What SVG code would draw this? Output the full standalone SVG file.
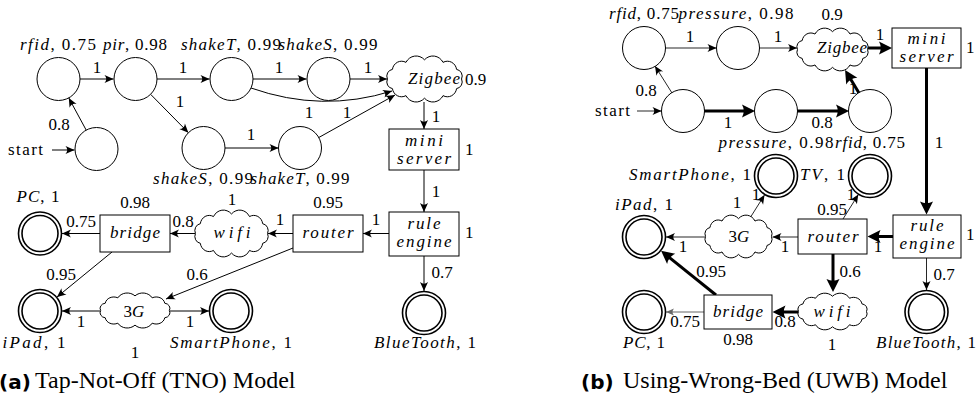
<svg xmlns="http://www.w3.org/2000/svg" width="977" height="397" viewBox="0 0 977 397">
<defs>
<marker id="ah" markerUnits="userSpaceOnUse" viewBox="-10 -5 11 10" refX="0" refY="0" markerWidth="11" markerHeight="10" orient="auto" overflow="visible"><path d="M0,0 L-9,-4 Q-5.5,0 -9,4 Z" fill="#000"/></marker>
<marker id="ahg" markerUnits="userSpaceOnUse" viewBox="-10 -5 11 10" refX="0" refY="0" markerWidth="11" markerHeight="10" orient="auto" overflow="visible"><path d="M0,0 L-8,-3.5 Q-5,0 -8,3.5 Z" fill="#666"/></marker>
<marker id="ahb" markerUnits="userSpaceOnUse" viewBox="-7 -8 17 16" refX="0" refY="0" markerWidth="17" markerHeight="16" orient="auto" overflow="visible"><path d="M8,0 L-5,-6.5 Q-1.5,0 -5,6.5 Z" fill="#000"/></marker>
<path id="cloud" fill="#fff" stroke="#000" stroke-width="1" vector-effect="non-scaling-stroke" d="M34,0 A6,6 0 0 1 29.44,8.5 A8.5,8.5 0 0 1 17,14.72 A10.5,10.5 0 0 1 0,17 A10.5,10.5 0 0 1 -17,14.72 A8.5,8.5 0 0 1 -29.44,8.5 A6,6 0 0 1 -34,0 A6,6 0 0 1 -29.44,-8.5 A8.5,8.5 0 0 1 -17,-14.72 A10.5,10.5 0 0 1 0,-17 A10.5,10.5 0 0 1 17,-14.72 A8.5,8.5 0 0 1 29.44,-8.5 A6,6 0 0 1 34,0 Z"/>
<circle id="st" r="21.5" fill="#fff" stroke="#000" stroke-width="1"/>
<g id="acc"><circle r="21.5" fill="#fff" stroke="#000" stroke-width="1.6"/><circle r="18" fill="none" stroke="#000" stroke-width="1.6"/></g>
</defs>
<rect width="977" height="397" fill="#fff"/>
<text x="-1" y="389" font-family="DejaVu Sans" font-weight="bold" font-size="20">(a)</text>
<text x="35" y="388" font-family="Liberation Serif" font-size="24">Tap-Not-Off (TNO) Model</text>
<text x="581" y="389" font-family="DejaVu Sans" font-weight="bold" font-size="20">(b)</text>
<text x="623" y="388" font-family="Liberation Serif" font-size="24">Using-Wrong-Bed (UWB) Model</text>
<g id="edges-a" fill="none" stroke="#000" stroke-width="1">
<line x1="52" y1="150" x2="74.5" y2="150" marker-end="url(#ah)"/>
<line x1="86.2" y1="130.1" x2="68.8" y2="98" marker-end="url(#ah)"/>
<line x1="80" y1="79" x2="113.5" y2="79" marker-end="url(#ah)"/>
<line x1="157" y1="79" x2="209.5" y2="79" marker-end="url(#ah)"/>
<line x1="253" y1="79" x2="306.5" y2="79" marker-end="url(#ah)"/>
<line x1="350" y1="79" x2="387" y2="79" marker-end="url(#ah)"/>
<line x1="150.6" y1="94.3" x2="188.4" y2="132.7" marker-end="url(#ah)"/>
<line x1="225" y1="148" x2="278.5" y2="148" marker-end="url(#ah)"/>
<line x1="318.8" y1="137.5" x2="395" y2="95" marker-end="url(#ah)"/>
<path d="M251,88 Q322,113 392,91" marker-end="url(#ah)"/>
<line x1="424" y1="102" x2="424" y2="129" marker-end="url(#ah)"/>
<line x1="424" y1="170" x2="424" y2="212" marker-end="url(#ah)"/>
<line x1="389" y1="233.5" x2="363" y2="233.5" marker-end="url(#ah)"/>
<line x1="293" y1="233.5" x2="268" y2="233.5" marker-end="url(#ah)"/>
<line x1="195" y1="233.5" x2="170" y2="233.5" marker-end="url(#ah)"/>
<line x1="100" y1="233.5" x2="62" y2="233.5" marker-end="url(#ah)"/>
<line x1="112" y1="252" x2="57" y2="297" marker-end="url(#ah)"/>
<line x1="293" y1="248" x2="166" y2="299" marker-end="url(#ah)"/>
<line x1="100" y1="311" x2="62" y2="311" marker-end="url(#ah)"/>
<line x1="170" y1="311" x2="209" y2="311" marker-end="url(#ah)"/>
<line x1="424" y1="256" x2="424" y2="291" marker-end="url(#ah)"/>
</g>
<g id="a-rfid"><use href="#st" x="58.5" y="79"/><text font-family="Liberation Serif" font-size="17" text-anchor="middle" x="58" y="50" textLength="76" lengthAdjust="spacing"><tspan font-style="italic">rfid</tspan>, 0.75</text></g>
<g id="a-pir"><use href="#st" x="135.5" y="79"/><text font-family="Liberation Serif" font-size="17" text-anchor="middle" x="135" y="50" textLength="64" lengthAdjust="spacing"><tspan font-style="italic">pir</tspan>, 0.98</text></g>
<g id="a-shakeT1"><use href="#st" x="231.5" y="79"/><text font-family="Liberation Serif" font-size="17" text-anchor="middle" x="231" y="50" textLength="100" lengthAdjust="spacing"><tspan font-style="italic">shakeT</tspan>, 0.99</text></g>
<g id="a-shakeS1"><use href="#st" x="328.5" y="79"/><text font-family="Liberation Serif" font-size="17" text-anchor="middle" x="328" y="50" textLength="99" lengthAdjust="spacing"><tspan font-style="italic">shakeS</tspan>, 0.99</text></g>
<g id="a-start"><use href="#st" x="96.5" y="149"/><text font-family="Liberation Serif" font-size="17" x="8" y="155" textLength="35" lengthAdjust="spacing">start</text></g>
<g id="a-shakeS2"><use href="#st" x="203.5" y="148"/><text font-family="Liberation Serif" font-size="17" text-anchor="middle" x="203" y="184" textLength="100" lengthAdjust="spacing"><tspan font-style="italic">shakeS</tspan>, 0.99</text></g>
<g id="a-shakeT2"><use href="#st" x="300" y="148"/><text font-family="Liberation Serif" font-size="17" text-anchor="middle" x="300" y="184" textLength="99" lengthAdjust="spacing"><tspan font-style="italic">shakeT</tspan>, 0.99</text></g>
<g id="a-zigbee"><use href="#cloud" transform="translate(424.5,79) scale(1.09,1.13)"/><text font-family="Liberation Serif" font-size="17" font-style="italic" text-anchor="middle" x="434" y="84" textLength="52" lengthAdjust="spacing">Zigbee</text><text font-family="Liberation Serif" font-size="17" x="465" y="85">0.9</text></g>
<g id="a-mini"><rect x="389" y="129" width="70" height="41" fill="#fff" stroke="#000" stroke-width="1"/><text font-family="Liberation Serif" font-size="17" font-style="italic" text-anchor="middle" x="424" y="146" textLength="38" lengthAdjust="spacing">mini</text><text font-family="Liberation Serif" font-size="17" font-style="italic" text-anchor="middle" x="424" y="164" textLength="54" lengthAdjust="spacing">server</text><text font-family="Liberation Serif" font-size="17" x="465" y="155">1</text></g>
<g id="a-rule"><rect x="389" y="212" width="70" height="44" fill="#fff" stroke="#000" stroke-width="1"/><text font-family="Liberation Serif" font-size="17" font-style="italic" text-anchor="middle" x="424" y="229" textLength="33" lengthAdjust="spacing">rule</text><text font-family="Liberation Serif" font-size="17" font-style="italic" text-anchor="middle" x="424" y="247" textLength="55" lengthAdjust="spacing">engine</text><text font-family="Liberation Serif" font-size="17" x="465" y="238">1</text></g>
<g id="a-router"><rect x="293" y="215" width="70" height="37" fill="#fff" stroke="#000" stroke-width="1"/><text font-family="Liberation Serif" font-size="17" font-style="italic" text-anchor="middle" x="328" y="238" textLength="51" lengthAdjust="spacing">router</text><text font-family="Liberation Serif" font-size="17" text-anchor="middle" x="328" y="208">0.95</text></g>
<g id="a-wifi"><use href="#cloud" transform="translate(231.5,233.5) scale(1.06,1.15)"/><text font-family="Liberation Serif" font-size="17" font-style="italic" text-anchor="middle" x="232" y="238" textLength="37" lengthAdjust="spacing">wifi</text><text font-family="Liberation Serif" font-size="17" text-anchor="middle" x="232" y="205">1</text></g>
<g id="a-bridge"><rect x="100" y="215" width="70" height="37" fill="#fff" stroke="#000" stroke-width="1"/><text font-family="Liberation Serif" font-size="17" font-style="italic" text-anchor="middle" x="135" y="238" textLength="50" lengthAdjust="spacing">bridge</text><text font-family="Liberation Serif" font-size="17" text-anchor="middle" x="135" y="208">0.98</text></g>
<g id="a-pc"><use href="#acc" x="40" y="233.5"/><text font-family="Liberation Serif" font-size="17" text-anchor="middle" x="38" y="202" textLength="43" lengthAdjust="spacing"><tspan font-style="italic">PC</tspan>, 1</text></g>
<g id="a-3g"><use href="#cloud" transform="translate(135,310.5) scale(1.01,0.86)"/><text font-family="Liberation Serif" font-size="17" text-anchor="middle" x="134" y="317">3<tspan font-style="italic">G</tspan></text><text font-family="Liberation Serif" font-size="17" text-anchor="middle" x="135" y="358">1</text></g>
<g id="a-ipad"><use href="#acc" x="40" y="311"/><text font-family="Liberation Serif" font-size="17" text-anchor="middle" x="34" y="348" textLength="63" lengthAdjust="spacing"><tspan font-style="italic">iPad</tspan>, 1</text></g>
<g id="a-smartphone"><use href="#acc" x="231" y="311"/><text font-family="Liberation Serif" font-size="17" text-anchor="middle" x="231" y="348" textLength="122" lengthAdjust="spacing"><tspan font-style="italic">SmartPhone</tspan>, 1</text></g>
<g id="a-bluetooth"><use href="#acc" x="424" y="313"/><text font-family="Liberation Serif" font-size="17" text-anchor="middle" x="425" y="348" textLength="102" lengthAdjust="spacing"><tspan font-style="italic">BlueTooth</tspan>, 1</text></g>
<g id="labels-a">
<text font-family="Liberation Serif" font-size="17" text-anchor="middle" x="59" y="130">0.8</text>
<text font-family="Liberation Serif" font-size="17" text-anchor="middle" x="97" y="73">1</text>
<text font-family="Liberation Serif" font-size="17" text-anchor="middle" x="183" y="73">1</text>
<text font-family="Liberation Serif" font-size="17" text-anchor="middle" x="279" y="73">1</text>
<text font-family="Liberation Serif" font-size="17" text-anchor="middle" x="368" y="73">1</text>
<text font-family="Liberation Serif" font-size="17" text-anchor="middle" x="180" y="107">1</text>
<text font-family="Liberation Serif" font-size="17" text-anchor="middle" x="251" y="140">1</text>
<text font-family="Liberation Serif" font-size="17" text-anchor="middle" x="309" y="118">1</text>
<text font-family="Liberation Serif" font-size="17" text-anchor="middle" x="347" y="118">1</text>
<text font-family="Liberation Serif" font-size="17" text-anchor="middle" x="436" y="122">1</text>
<text font-family="Liberation Serif" font-size="17" text-anchor="middle" x="436" y="197">1</text>
<text font-family="Liberation Serif" font-size="17" text-anchor="middle" x="376" y="225">1</text>
<text font-family="Liberation Serif" font-size="17" text-anchor="middle" x="280" y="225">1</text>
<text font-family="Liberation Serif" font-size="17" text-anchor="middle" x="183" y="227">0.8</text>
<text font-family="Liberation Serif" font-size="17" text-anchor="middle" x="81" y="227">0.75</text>
<text font-family="Liberation Serif" font-size="17" text-anchor="middle" x="61" y="280">0.95</text>
<text font-family="Liberation Serif" font-size="17" text-anchor="middle" x="197" y="280">0.6</text>
<text font-family="Liberation Serif" font-size="17" text-anchor="middle" x="442" y="278">0.7</text>
<text font-family="Liberation Serif" font-size="17" text-anchor="middle" x="81" y="327">1</text>
<text font-family="Liberation Serif" font-size="17" text-anchor="middle" x="190" y="327">1</text>
</g>
<g id="edges-b" fill="none" stroke="#000">
<g stroke-width="0.85">
<line x1="637" y1="111" x2="661.5" y2="111" marker-end="url(#ah)"/>
<line x1="672" y1="93" x2="655" y2="66" marker-end="url(#ah)"/>
<line x1="665" y1="48" x2="716.5" y2="48" marker-end="url(#ah)"/>
<line x1="759" y1="48" x2="797" y2="48" marker-end="url(#ah)"/>
<line x1="798" y1="237" x2="772.5" y2="237" marker-end="url(#ah)"/>
<line x1="705" y1="237" x2="666" y2="237" marker-end="url(#ah)"/>
<line x1="750" y1="218" x2="764.5" y2="195" marker-end="url(#ah)"/>
<line x1="843" y1="219" x2="858.3" y2="194.6" marker-end="url(#ah)"/>
<line x1="926.5" y1="258" x2="926.5" y2="290" marker-end="url(#ah)"/>
</g>
<g stroke-width="3">
<line x1="868" y1="48" x2="884" y2="48" marker-end="url(#ahb)"/>
<line x1="704" y1="111" x2="747" y2="111" marker-end="url(#ahb)"/>
<line x1="797" y1="111" x2="841" y2="111" marker-end="url(#ahb)"/>
<line x1="859" y1="93" x2="849.2" y2="76.8" marker-end="url(#ahb)"/>
<line x1="926.5" y1="68" x2="926.5" y2="206.5" marker-end="url(#ahb)"/>
<line x1="893" y1="236.5" x2="875.5" y2="236.5" marker-end="url(#ahb)"/>
<line x1="833" y1="254" x2="833" y2="284" marker-end="url(#ahb)"/>
<line x1="798" y1="312" x2="780.5" y2="312" marker-end="url(#ahb)"/>
<line x1="716" y1="295" x2="667.3" y2="255.8" marker-end="url(#ahb)"/>
</g>
<line x1="704" y1="312" x2="666" y2="312" stroke="#666" stroke-width="1" marker-end="url(#ahg)"/>
</g>
<g id="b-rfid"><use href="#st" x="644" y="48"/><text font-family="Liberation Serif" font-size="17" text-anchor="middle" x="644" y="19" textLength="70" lengthAdjust="spacing"><tspan font-style="italic">rfid</tspan>, 0.75</text></g>
<g id="b-pressure"><use href="#st" x="738" y="48"/><text font-family="Liberation Serif" font-size="17" text-anchor="middle" x="736" y="19" textLength="115" lengthAdjust="spacing"><tspan font-style="italic">pressure</tspan>, 0.98</text></g>
<g id="b-zigbee"><use href="#cloud" transform="translate(832.5,49.5) scale(1.03,1.05)"/><text font-family="Liberation Serif" font-size="17" font-style="italic" text-anchor="middle" x="842" y="53" textLength="50" lengthAdjust="spacing">Zigbee</text><text font-family="Liberation Serif" font-size="17" text-anchor="middle" x="832" y="20">0.9</text></g>
<g id="b-mini"><rect x="892" y="28" width="69" height="40" fill="#fff" stroke="#000" stroke-width="1"/><text font-family="Liberation Serif" font-size="17" font-style="italic" text-anchor="middle" x="926.5" y="44" textLength="38" lengthAdjust="spacing">mini</text><text font-family="Liberation Serif" font-size="17" font-style="italic" text-anchor="middle" x="926.5" y="62" textLength="54" lengthAdjust="spacing">server</text><text font-family="Liberation Serif" font-size="17" x="966" y="53">1</text></g>
<g id="b-start"><use href="#st" x="683" y="111"/><text font-family="Liberation Serif" font-size="17" x="595" y="116" textLength="35" lengthAdjust="spacing">start</text></g>
<g id="b-pressure2"><use href="#st" x="776" y="111"/><text font-family="Liberation Serif" font-size="17" text-anchor="middle" x="776" y="148" textLength="115" lengthAdjust="spacing"><tspan font-style="italic">pressure</tspan>, 0.98</text></g>
<g id="b-rfid2"><use href="#st" x="870" y="111"/><text font-family="Liberation Serif" font-size="17" text-anchor="middle" x="870" y="148" textLength="70" lengthAdjust="spacing"><tspan font-style="italic">rfid</tspan>, 0.75</text></g>
<g id="b-smartphone"><use href="#acc" x="776" y="176"/><text font-family="Liberation Serif" font-size="17" text-anchor="end" x="751" y="180" textLength="122" lengthAdjust="spacing"><tspan font-style="italic">SmartPhone</tspan>, 1</text></g>
<g id="b-tv"><use href="#acc" x="870" y="176"/><text font-family="Liberation Serif" font-size="17" x="800" y="180" textLength="45" lengthAdjust="spacing"><tspan font-style="italic">TV</tspan>, 1</text></g>
<g id="b-ipad"><use href="#acc" x="644" y="237"/><text font-family="Liberation Serif" font-size="17" text-anchor="middle" x="644" y="210" textLength="58" lengthAdjust="spacing"><tspan font-style="italic">iPad</tspan>, 1</text></g>
<g id="b-3g"><use href="#cloud" transform="translate(738.5,236.5) scale(0.97,1.05)"/><text font-family="Liberation Serif" font-size="17" text-anchor="middle" x="739" y="242">3<tspan font-style="italic">G</tspan></text><text font-family="Liberation Serif" font-size="17" text-anchor="middle" x="737" y="208">1</text></g>
<g id="b-router"><rect x="798" y="219" width="69" height="35" fill="#fff" stroke="#000" stroke-width="1"/><text font-family="Liberation Serif" font-size="17" font-style="italic" text-anchor="middle" x="833" y="242" textLength="51" lengthAdjust="spacing">router</text><text font-family="Liberation Serif" font-size="17" text-anchor="middle" x="832" y="215">0.95</text></g>
<g id="b-rule"><rect x="893" y="215" width="68" height="43" fill="#fff" stroke="#000" stroke-width="1"/><text font-family="Liberation Serif" font-size="17" font-style="italic" text-anchor="middle" x="927" y="231" textLength="33" lengthAdjust="spacing">rule</text><text font-family="Liberation Serif" font-size="17" font-style="italic" text-anchor="middle" x="927" y="249" textLength="55" lengthAdjust="spacing">engine</text><text font-family="Liberation Serif" font-size="17" x="966" y="240">1</text></g>
<g id="b-pc"><use href="#acc" x="644" y="312"/><text font-family="Liberation Serif" font-size="17" text-anchor="middle" x="644" y="348" textLength="42" lengthAdjust="spacing"><tspan font-style="italic">PC</tspan>, 1</text></g>
<g id="b-bridge"><rect x="704" y="295" width="68" height="34" fill="#fff" stroke="#000" stroke-width="1"/><text font-family="Liberation Serif" font-size="17" font-style="italic" text-anchor="middle" x="738" y="317" textLength="50" lengthAdjust="spacing">bridge</text><text font-family="Liberation Serif" font-size="17" text-anchor="middle" x="738" y="345">0.98</text></g>
<g id="b-wifi"><use href="#cloud" transform="translate(832.5,311.5) scale(1,0.9)"/><text font-family="Liberation Serif" font-size="17" font-style="italic" text-anchor="middle" x="832" y="317" textLength="37" lengthAdjust="spacing">wifi</text><text font-family="Liberation Serif" font-size="17" text-anchor="middle" x="832" y="350">1</text></g>
<g id="b-bluetooth"><use href="#acc" x="926.5" y="312"/><text font-family="Liberation Serif" font-size="17" text-anchor="middle" x="926" y="348" textLength="100" lengthAdjust="spacing"><tspan font-style="italic">BlueTooth</tspan>, 1</text></g>
<g id="labels-b">
<text font-family="Liberation Serif" font-size="17" text-anchor="middle" x="646" y="96">0.8</text>
<text font-family="Liberation Serif" font-size="17" text-anchor="middle" x="690" y="42">1</text>
<text font-family="Liberation Serif" font-size="17" text-anchor="middle" x="778" y="42">1</text>
<text font-family="Liberation Serif" font-size="17" text-anchor="middle" x="880" y="40">1</text>
<text font-family="Liberation Serif" font-size="17" text-anchor="middle" x="728" y="128">1</text>
<text font-family="Liberation Serif" font-size="17" text-anchor="middle" x="822" y="128">0.8</text>
<text font-family="Liberation Serif" font-size="17" text-anchor="middle" x="853" y="94">1</text>
<text font-family="Liberation Serif" font-size="17" text-anchor="middle" x="939" y="148">1</text>
<text font-family="Liberation Serif" font-size="17" text-anchor="middle" x="756" y="200">1</text>
<text font-family="Liberation Serif" font-size="17" text-anchor="middle" x="851" y="200">1</text>
<text font-family="Liberation Serif" font-size="17" text-anchor="middle" x="683" y="252">1</text>
<text font-family="Liberation Serif" font-size="17" text-anchor="middle" x="785" y="252">1</text>
<text font-family="Liberation Serif" font-size="17" text-anchor="middle" x="878" y="252">1</text>
<text font-family="Liberation Serif" font-size="17" text-anchor="middle" x="711" y="277">0.95</text>
<text font-family="Liberation Serif" font-size="17" text-anchor="middle" x="850" y="277">0.6</text>
<text font-family="Liberation Serif" font-size="17" text-anchor="middle" x="944" y="280">0.7</text>
<text font-family="Liberation Serif" font-size="17" text-anchor="middle" x="685" y="327">0.75</text>
<text font-family="Liberation Serif" font-size="17" text-anchor="middle" x="785" y="327">0.8</text>
</g>
</svg>
